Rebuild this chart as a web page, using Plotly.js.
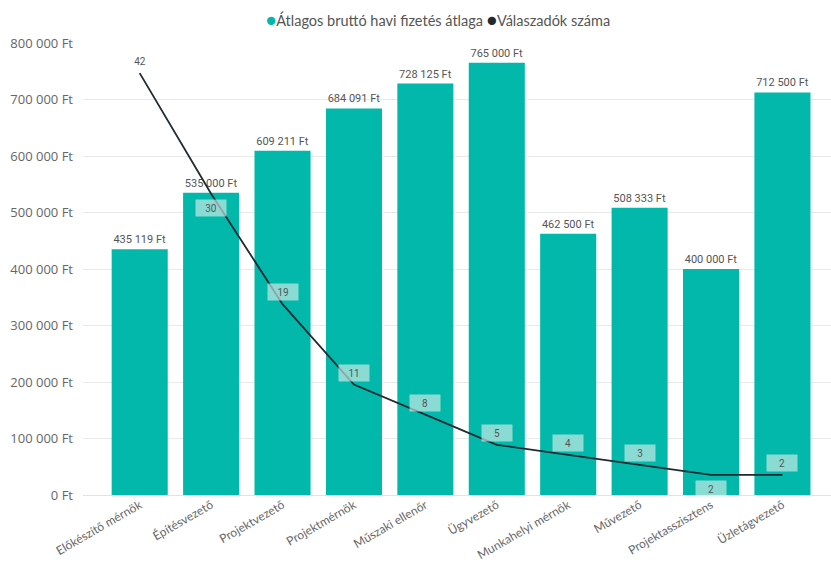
<!DOCTYPE html>
<html>
<head>
<meta charset="utf-8">
<script src="https://cdn.plot.ly/plotly-3.0.1.min.js"></script>
<style>html,body{margin:0;padding:0;background:#fff;}#chart{width:831px;height:571px;}</style>
</head>
<body>
<div id="chart"></div>
<script>
const categories = ["Előkészítő mérnök","Építésvezető","Projektvezető","Projektmérnök","Műszaki ellenőr","Ügyvezető","Munkahelyi mérnök","Művezető","Projektasszisztens","Üzletágvezető"];
const salaryValues = [435119, 535000, 609211, 684091, 728125, 765000, 462500, 508333, 400000, 712500];
const respondentCounts = [42, 30, 19, 11, 8, 5, 4, 3, 2, 2];
const seriesNames = ["Átlagos bruttó havi fizetés átlaga", "Válaszadók száma"];

const teal = '#01B8AA';
const dark = '#1F2A33';
const below = new Set([1, 8]);

const traces = [
  {
    type: 'bar', x: categories, y: salaryValues, name: seriesNames[0], showlegend: false,
    marker: {color: teal},
    texttemplate: '%{y:,.0f} Ft', textposition: 'outside', cliponaxis: false,
    textfont: {family: 'Roboto, DejaVu Sans', size: 11, color: '#555'}
  },
  {
    type: 'scatter', mode: 'lines', x: categories, y: respondentCounts, yaxis: 'y2',
    name: seriesNames[1], showlegend: false,
    line: {color: dark, width: 1.8}
  }
];

const annotations = categories.map((c, i) => ({
  x: c, y: respondentCounts[i], xref: 'x', yref: 'y2',
  text: String(respondentCounts[i]), showarrow: false,
  yshift: below.has(i) ? -14 : 12,
  bgcolor: i === 0 ? 'rgba(0,0,0,0)' : 'rgba(232,242,241,0.6)', borderpad: 2,
  width: 26, height: 12,
  font: {family: 'Roboto, DejaVu Sans', size: 10, color: '#555'}
}));

// custom legend (dot close to text, as in the original)
annotations.push({
  xref: 'paper', yref: 'paper', x: 0.4746, y: 1.053, xanchor: 'center', yanchor: 'middle',
  showarrow: false,
  text: '<span style="color:' + teal + ';font-size:17px">●</span>' + seriesNames[0] +
        ' <span style="color:' + dark + ';font-size:17px">●</span>' + seriesNames[1],
  font: {family: 'Lato, Noto Sans', size: 14.5, color: '#555'}
});

const layout = {
  width: 831, height: 571,
  margin: {l: 83, r: 0, t: 43, b: 76},
  paper_bgcolor: '#ffffff', plot_bgcolor: '#ffffff',
  separators: ', ',
  bargap: 0.215,
  showlegend: false,
  xaxis: {
    type: 'category', range: [-0.794, 9.68], tickangle: -30,
    showgrid: false, zeroline: false, showline: false, ticks: '',
    tickfont: {family: 'Lato, Noto Sans', size: 12, color: '#666'},
    fixedrange: true
  },
  yaxis: {
    range: [0, 800000], dtick: 100000, tickformat: ',d', ticksuffix: ' Ft',
    showgrid: true, gridcolor: '#e9e9e9', zeroline: true, zerolinecolor: '#e2e2e2',
    ticks: '', ticklabelstandoff: 9,
    tickfont: {family: 'Open Sans, Noto Sans', size: 13, color: '#666'}
  },
  yaxis2: {
    overlaying: 'y', side: 'right', range: [0, 45], visible: false, showgrid: false
  },
  annotations: annotations
};

Plotly.newPlot('chart', traces, layout, {displayModeBar: false, staticPlot: true});
</script>
</body>
</html>
